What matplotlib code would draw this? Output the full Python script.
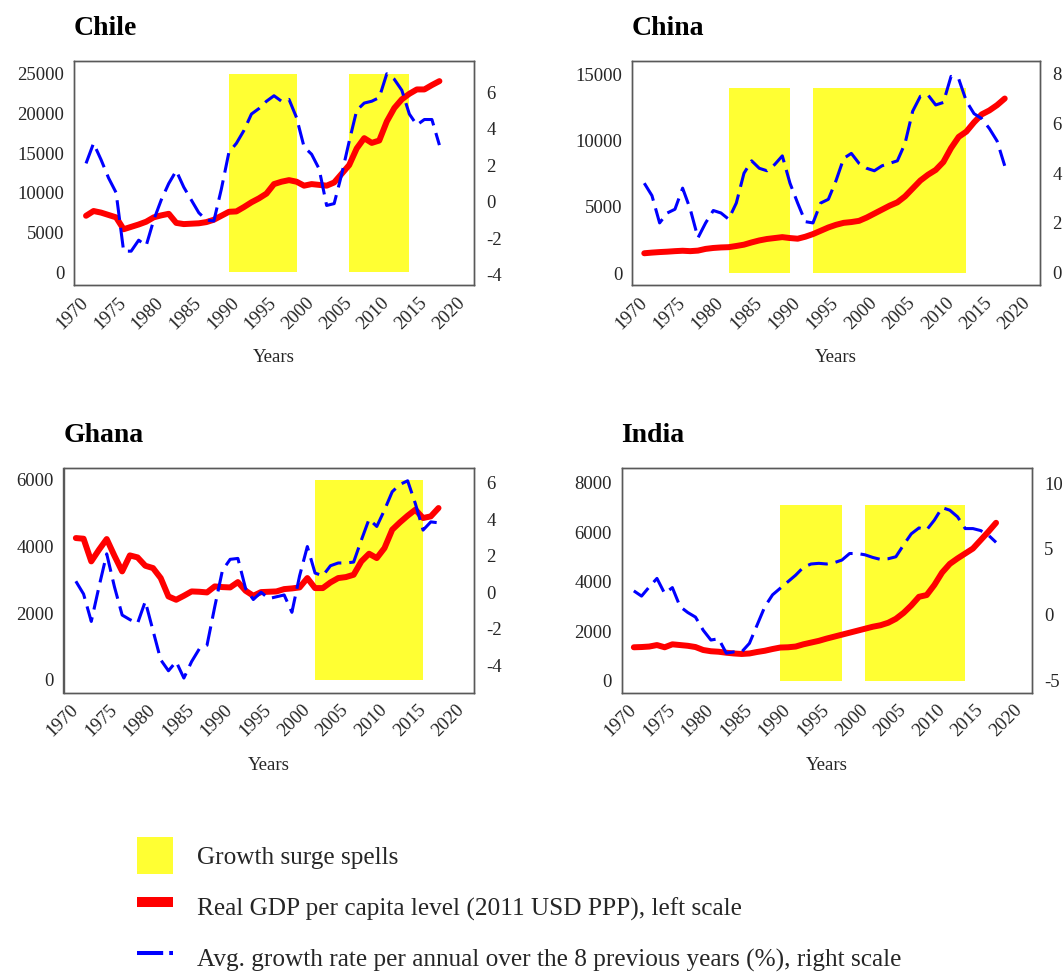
import matplotlib
matplotlib.use('Agg')
import matplotlib.pyplot as plt
from matplotlib.patches import Patch
from matplotlib.lines import Line2D

plt.rcParams['font.family'] = ['Liberation Serif', 'DejaVu Serif']
plt.rcParams['axes.unicode_minus'] = False

years = list(range(1970, 2018))

# real GDP per capita (2011 USD PPP)
chile_gdp = [7100, 7700, 7500, 7200, 6900, 5400, 5700, 6000, 6350, 6900,
             7150, 7350, 6200, 6050, 6100, 6150, 6300, 6600, 7100, 7600,
             7650, 8200, 8800, 9300, 9900, 11100, 11400, 11600, 11400, 10900,
             11100, 11000, 10900, 11300, 12400, 13500, 15600, 16900, 16300, 16600,
             19000, 20700, 21800, 22500, 23050, 23050, 23600, 24100]
china_gdp = [1500, 1550, 1590, 1620, 1660, 1690, 1660, 1700, 1830, 1900,
             1940, 1960, 2050, 2150, 2320, 2470, 2580, 2650, 2720, 2650,
             2600, 2750, 2950, 3200, 3450, 3650, 3800, 3860, 3950, 4200,
             4500, 4800, 5100, 5350, 5800, 6400, 7000, 7440, 7800, 8400,
             9450, 10300, 10700, 11400, 12000, 12300, 12700, 13200]
ghana_gdp = [4250, 4230, 3550, 3900, 4220, 3720, 3250, 3730, 3670, 3420,
             3350, 3050, 2500, 2400, 2520, 2650, 2640, 2620, 2800, 2780,
             2770, 2930, 2670, 2520, 2630, 2640, 2650, 2720, 2740, 2770,
             3050, 2750, 2750, 2920, 3050, 3080, 3150, 3550, 3780, 3650,
             3950, 4500, 4720, 4920, 5100, 4850, 4900, 5150]
india_gdp = [1350, 1360, 1380, 1440, 1350, 1470, 1440, 1410, 1360, 1240,
             1190, 1170, 1130, 1100, 1080, 1100, 1160, 1210, 1280, 1340,
             1350, 1380, 1470, 1540, 1610, 1700, 1780, 1860, 1940, 2020,
             2100, 2180, 2240, 2340, 2500, 2740, 3040, 3390, 3460, 3870,
             4370, 4720, 4940, 5140, 5340, 5680, 6020, 6380]

# average annual growth over the 8 previous years (%)
chile_growth = [2.1, 3.2, 2.3, 1.3, 0.5, -2.7, -2.7, -2.1, -2.4, -1.0,
                0.1, 1.0, 1.7, 0.8, 0.1, -0.6, -1.0, -1.05, 0.7, 2.7,
                3.2, 3.9, 4.8, 5.1, 5.5, 5.8, 5.5, 5.6, 4.6, 3.0,
                2.6, 1.8, -0.2, -0.1, 1.5, 3.3, 5.0, 5.4, 5.5, 5.7,
                7.0, 6.7, 6.1, 4.8, 4.2, 4.5, 4.5, 3.1]
china_growth = [3.6, 3.1, 2.0, 2.4, 2.55, 3.4, 2.55, 1.4, 2.0, 2.5,
                2.4, 2.15, 2.8, 4.0, 4.5, 4.2, 4.1, 4.35, 4.7, 3.6,
                2.8, 2.05, 2.0, 2.8, 2.95, 3.7, 4.6, 4.8, 4.4, 4.2,
                4.1, 4.3, 4.4, 4.5, 5.2, 6.5, 7.1, 7.15, 6.75, 6.85,
                7.9, 7.8, 6.9, 6.4, 6.2, 5.8, 5.3, 4.3]
ghana_growth = [0.6, -0.1, -1.6, 0.3, 2.1, 0.3, -1.25, -1.5, -1.7, -0.5,
                -2.1, -3.7, -4.3, -3.8, -4.7, -3.8, -3.1, -2.9, -0.8, 1.2,
                1.8, 1.85, 0.2, -0.4, 0.0, -0.35, -0.25, -0.15, -1.1, 0.9,
                2.5, 1.05, 0.9, 1.45, 1.6, 1.6, 1.65, 2.85, 4.0, 3.6,
                4.5, 5.5, 5.9, 6.1, 4.85, 3.4, 3.85, 3.8]
india_growth = [1.8, 1.4, 2.1, 2.75, 1.6, 2.05, 0.6, 0.15, -0.2, -1.2,
                -1.95, -1.85, -2.95, -2.85, -2.85, -2.2, -0.8, 0.6, 1.5, 2.0,
                2.5, 3.0, 3.6, 3.85, 3.9, 3.85, 3.95, 4.15, 4.65, 4.65,
                4.55, 4.35, 4.2, 4.25, 4.4, 5.3, 6.15, 6.6, 6.45, 7.2,
                8.15, 7.95, 7.45, 6.55, 6.55, 6.4, 6.05, 5.5]

# growth surge spells (start year, end year)
chile_spells = [(1989, 1998), (2005, 2013)]
china_spells = [(1981, 1989), (1992, 2012)]
ghana_spells = [(2001, 2015)]
india_spells = [(1989, 1997), (2000, 2013)]

YELLOW = '#FFFF33'
RED = '#FF0000'
BLUE = '#0000FF'
SPINE = '#595959'
TEXT = '#262626'

W, H = 1064, 972


def px_axes(fig, left, top, right, bottom):
    # axes placed from pixel edges
    return fig.add_axes([left / W, 1 - bottom / H, (right - left) / W, (bottom - top) / H])


def Plot_Panel(ax, title, gdp, growth, spells, spell_top, yl, yticks_l, yr, yticks_r):
    for start, end in spells:
        ax.bar(start, spell_top, width=end - start, align='edge', color=YELLOW, zorder=1)
    ax.plot(years, gdp, color=RED, lw=4.3, solid_capstyle='round',
            solid_joinstyle='round', zorder=3)
    ax.set_xlim(1968.4, 2021.6)
    ax.set_ylim(*yl)
    ax.set_yticks(yticks_l)
    ax.set_xticks(range(1970, 2021, 5))
    ax.set_xticklabels([str(y) for y in range(1970, 2021, 5)], rotation=45,
                       ha='right', va='center', rotation_mode='anchor')
    ax.tick_params(axis='both', length=0, labelsize=13.5, colors=TEXT)
    ax.tick_params(axis='y', pad=7)
    ax.tick_params(axis='x', pad=11)
    ax.set_xlabel('Years', fontsize=13.5, color=TEXT, labelpad=12)
    ax.set_title(title, loc='left', fontsize=20, fontweight='bold', pad=19)

    ax2 = ax.twinx()
    ax2.plot(years, growth, color=BLUE, lw=2.2, dashes=(6.5, 2.6))
    ax2.set_ylim(*yr)
    ax2.set_yticks(yticks_r)
    ax2.tick_params(axis='y', length=0, labelsize=13.5, colors=TEXT, pad=9)
    for a in (ax, ax2):
        for s in a.spines.values():
            s.set_color(SPINE)
            s.set_linewidth(1.0)


fig = plt.figure(figsize=(W / 100, H / 100), dpi=100)

ax = px_axes(fig, 74, 61, 474, 285)
Plot_Panel(ax, 'Chile', chile_gdp, chile_growth, chile_spells, 25000,
           (-1640, 26640), range(0, 25001, 5000), (-4.55, 7.7), range(-4, 7, 2))

ax = px_axes(fig, 632, 61.5, 1040, 285)
Plot_Panel(ax, 'China', china_gdp, china_growth, china_spells, 14000,
           (-900, 16000), range(0, 15001, 5000), (-0.5, 8.5), range(0, 9, 2))

ax = px_axes(fig, 63.5, 468, 474, 692.5)
Plot_Panel(ax, 'Ghana', ghana_gdp, ghana_growth, ghana_spells, 6000,
           (-380, 6350), range(0, 6001, 2000), (-5.49, 6.8), range(-4, 7, 2))

ax = px_axes(fig, 621.5, 468, 1031.5, 692.5)
Plot_Panel(ax, 'India', india_gdp, india_growth, india_spells, 7100,
           (-477, 8594), range(0, 8001, 2000), (-5.95, 11.17), range(-5, 11, 5))

handles = [Patch(facecolor=YELLOW, edgecolor='none'),
           Line2D([], [], color=RED, lw=7.2, solid_capstyle='butt'),
           Line2D([], [], color=BLUE, lw=2.9, dashes=(6.5, 1.5))]
labels = ['Growth surge spells',
          'Real GDP per capita level (2011 USD PPP), left scale',
          'Avg. growth rate per annual over the 8 previous years (%), right scale']
fig.legend(handles, labels, loc='upper left', bbox_to_anchor=(137 / W, 1 - 837 / H),
           frameon=False, borderpad=0, borderaxespad=0, fontsize=18.2,
           handlelength=1.43, handleheight=1.9, handletextpad=0.95,
           labelspacing=0.55, labelcolor=TEXT)

fig.savefig('out.png', dpi=100)
plt.close()
